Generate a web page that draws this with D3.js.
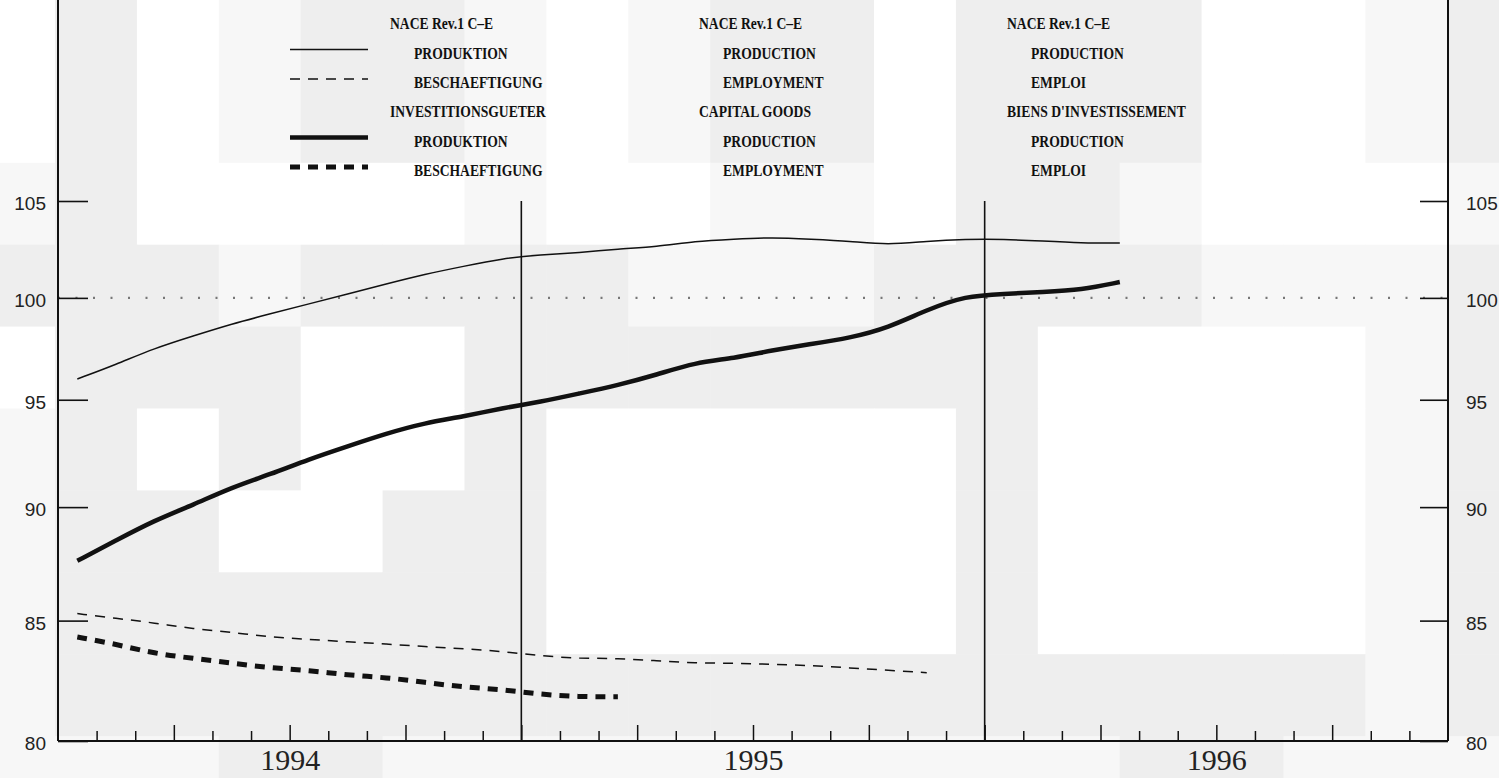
<!DOCTYPE html>
<html><head><meta charset="utf-8">
<script src="https://cdn.jsdelivr.net/npm/d3@7/dist/d3.min.js"></script>
<style>html,body{margin:0;padding:0;background:#fff;overflow:hidden}</style>
</head><body>
<svg id="chart" width="1499" height="778"></svg>
<script>
// ---------------- data ----------------
const months = ["1994-01","1994-02","1994-03","1994-04","1994-05","1994-06","1994-07","1994-08","1994-09","1994-10","1994-11","1994-12",
  "1995-01","1995-02","1995-03","1995-04","1995-05","1995-06","1995-07","1995-08","1995-09","1995-10","1995-11","1995-12",
  "1996-01","1996-02","1996-03","1996-04"];
const prodTotal   = [96.0,96.7,97.5,98.1,98.7,99.2,99.7,100.2,100.7,101.2,101.6,102.0,102.2,102.3,102.5,102.6,102.9,103.0,103.1,103.0,102.9,102.7,102.9,103.0,103.0,102.9,102.8,102.8];
const prodCapital = [87.6,88.5,89.4,90.1,90.9,91.5,92.2,92.8,93.4,93.9,94.2,94.6,94.9,95.3,95.7,96.2,96.8,97.0,97.4,97.7,98.0,98.5,99.4,100.1,100.2,100.3,100.4,100.8];
const empTotal    = [85.3,85.1,84.9,84.65,84.5,84.3,84.2,84.1,84.0,83.9,83.8,83.7,83.5,83.4,83.4,83.3,83.2,83.2,83.15,83.1,83.0,82.9,82.8];
const empCapital  = [84.3,84.0,83.6,83.4,83.2,83.0,82.9,82.7,82.6,82.4,82.2,82.1,81.9,81.8,81.8];
const yTicks = [80,85,90,95,100,105];
const years = ["1994","1995","1996"];
const legendDE = ["NACE Rev.1 C–E","PRODUKTION","BESCHAEFTIGUNG","INVESTITIONSGUETER","PRODUKTION","BESCHAEFTIGUNG"];
const legendEN = ["NACE Rev.1 C–E","PRODUCTION","EMPLOYMENT","CAPITAL GOODS","PRODUCTION","EMPLOYMENT"];
const legendFR = ["NACE Rev.1 C–E","PRODUCTION","EMPLOI","BIENS D'INVESTISSEMENT","PRODUCTION","EMPLOI"];

// scan texture (background shading of the scanned page)
const shadeRows = [
 "wgwlgglwlggwgggwwlg",
 "wgwlgglwlggwgggwwlg",
 "lgwwwwlwwllwgglwwwl",
 "ggglgggglllgggglllg",
 "wgggwwgggggggwwwwlg",
 "lgwgwwgwwwwwgwwwwlg",
 "lggwwggwwwwwgwwwwlg",
 "lggggggwwwwwgwwwwlg",
 "lgggggggggggggggglg",
 "lllgglllllllllgglll"];
const shadeColor = {w:"#ffffff", l:"#f7f7f7", g:"#eeeeee"};

// ---------------- layout ----------------
const L = 58, R = 1448, B = 741;
const svg = d3.select("#chart");

const x = d3.scaleLinear().domain([0, 36]).range([L, R]);
const y = d3.scaleLog().domain([80, 105]).range([B, 201]);

// background texture
const cell = 81.9;
shadeRows.forEach((row, r) => {
  row.split("").forEach((c, k) => {
    svg.append("rect")
      .attr("x", 55 - cell + k * cell).attr("y", -1 + r * cell)
      .attr("width", cell + 0.5).attr("height", cell + 0.5)
      .attr("fill", shadeColor[c]);
  });
});

const ink = "#111";

// dotted reference line at 100
svg.append("line")
  .attr("x1", L).attr("x2", R)
  .attr("y1", y(100)).attr("y2", y(100))
  .attr("stroke", "#777").attr("stroke-width", 2.2)
  .attr("stroke-dasharray", "2,15.5");

// year separator lines
[12, 24].forEach(m => {
  svg.append("line")
    .attr("x1", x(m)).attr("x2", x(m))
    .attr("y1", y(105)).attr("y2", B)
    .attr("stroke", ink).attr("stroke-width", 1.6);
});

// left axis
const gl = svg.append("g").attr("transform", `translate(${L},0)`)
  .call(d3.axisLeft(y).tickValues(yTicks).tickFormat(d3.format("d"))
        .tickSizeInner(-30).tickSizeOuter(0).tickPadding(12));
// right axis
const gr = svg.append("g").attr("transform", `translate(${R},0)`)
  .call(d3.axisRight(y).tickValues(yTicks).tickFormat(d3.format("d"))
        .tickSizeInner(-28).tickSizeOuter(0).tickPadding(18));
[gl, gr].forEach(g => {
  g.select(".domain").remove();
  g.selectAll(".tick line").attr("stroke", ink).attr("stroke-width", 1.6);
  g.selectAll(".tick text")
    .attr("font-family", "'Liberation Sans', Arial, sans-serif")
    .attr("font-size", 19).attr("fill", "#222")
    .attr("dy", "0.45em");
});

// bottom month ticks
const gm = svg.append("g").attr("transform", `translate(0,${B})`)
  .call(d3.axisBottom(x).tickValues(d3.range(1, 36).filter(m => m % 3 !== 0))
        .tickSizeInner(-10).tickSizeOuter(0).tickFormat(""));
const gq = svg.append("g").attr("transform", `translate(0,${B})`)
  .call(d3.axisBottom(x).tickValues(d3.range(3, 36, 3))
        .tickSizeInner(-16).tickSizeOuter(0).tickFormat(""));
[gm, gq].forEach(g => {
  g.select(".domain").remove();
  g.selectAll(".tick line").attr("stroke", ink).attr("stroke-width", 1.5);
});
// year labels
const gy = svg.append("g").attr("transform", `translate(0,${B})`)
  .call(d3.axisBottom(x).tickValues([6, 18, 30]).tickFormat((d, i) => years[i])
        .tickSize(0).tickPadding(8));
gy.select(".domain").remove();
gy.selectAll(".tick text")
  .attr("font-family", "'Liberation Serif', 'Times New Roman', serif")
  .attr("font-size", 30).attr("fill", "#222");

// frame lines
svg.append("line").attr("x1", L).attr("x2", L).attr("y1", 0).attr("y2", B)
  .attr("stroke", ink).attr("stroke-width", 2);
svg.append("line").attr("x1", R).attr("x2", R).attr("y1", 0).attr("y2", B)
  .attr("stroke", ink).attr("stroke-width", 2);
svg.append("line").attr("x1", L).attr("x2", R).attr("y1", B).attr("y2", B)
  .attr("stroke", ink).attr("stroke-width", 2);

// series
const styles = [
  {data: prodTotal,   width: 1.5, dash: null},
  {data: empTotal,    width: 1.5, dash: "10,8"},
  {data: prodCapital, width: 4.5, dash: null},
  {data: empCapital,  width: 5,   dash: "10,8"}
];
const line = d3.line().x((d, i) => x(i + 0.5)).y(d => y(d)).curve(d3.curveBasis);
styles.forEach(s => {
  svg.append("path").datum(s.data)
    .attr("d", line)
    .attr("fill", "none").attr("stroke", ink)
    .attr("stroke-width", s.width)
    .attr("stroke-linejoin", "round")
    .attr("stroke-dasharray", s.dash);
});

// legend
const rowY = [24, 53.5, 83, 112, 141.5, 171];
const cols = [{x: 390, t: legendDE}, {x: 699, t: legendEN}, {x: 1007, t: legendFR}];
cols.forEach(col => {
  col.t.forEach((txt, i) => {
    const header = (i === 0 || i === 3);
    const t = svg.append("text")
      .attr("x", col.x + (header ? 0 : 24))
      .attr("y", rowY[i] + 5)
      .attr("font-family", "'Liberation Serif', 'Times New Roman', serif")
      .attr("font-weight", "bold").attr("font-size", 16).attr("fill", "#111")
      .text(txt);
    const w = t.node().getComputedTextLength();
    t.attr("textLength", w * 0.85).attr("lengthAdjust", "spacingAndGlyphs");
  });
});
const legendRows = [1, 2, 4, 5];
legendRows.forEach((r, k) => {
  const s = styles[k];
  svg.append("line")
    .attr("x1", 290).attr("x2", 368)
    .attr("y1", rowY[r] - 4).attr("y2", rowY[r] - 4)
    .attr("stroke", ink).attr("stroke-width", s.width)
    .attr("stroke-dasharray", s.dash);
});
</script>
</body></html>
